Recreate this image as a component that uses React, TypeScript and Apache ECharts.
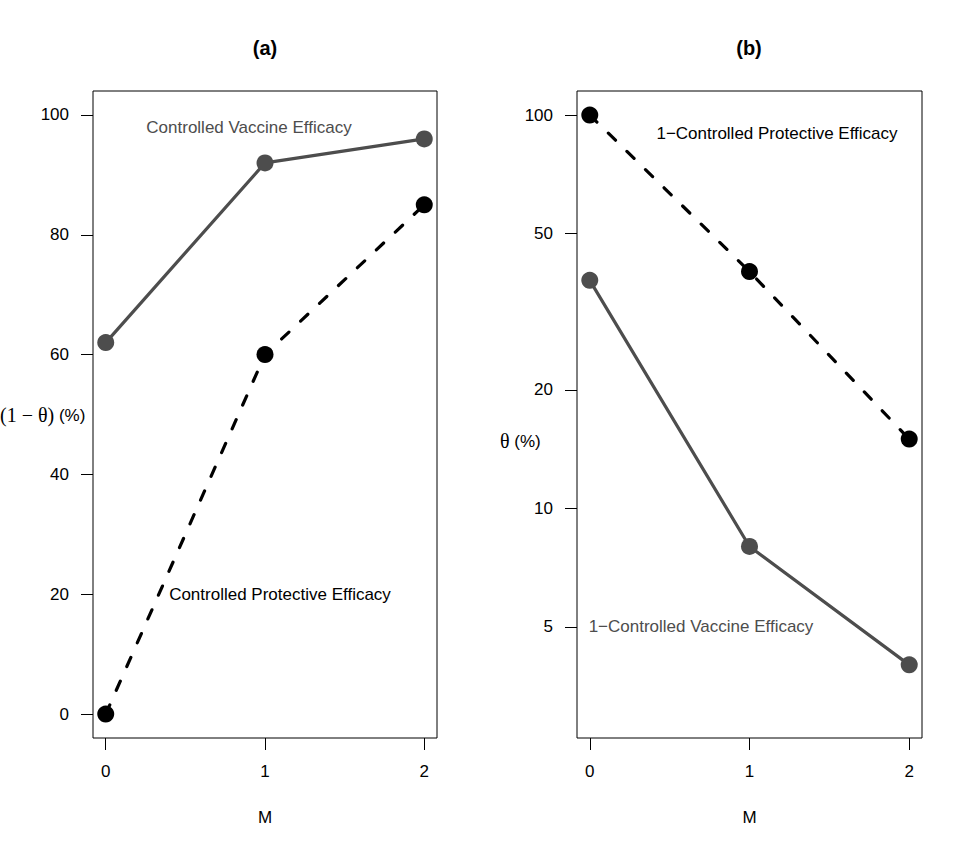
import React, { useEffect, useRef } from "react";
import * as echarts from "echarts";

const M = [0, 1, 2];
const xTicks = [0, 1, 2];
// panel (a): efficacies in %
const vaccineEffA = [62, 92, 96];
const protectiveEffA = [0, 60, 85];
const yTicksA = [0, 20, 40, 60, 80, 100];
// panel (b): theta in % (log scale)
const oneMinusVaccineB = [38, 8, 4];
const oneMinusProtectiveB = [100, 40, 15];
const yTicksB = [5, 10, 20, 50, 100];

const FONT = "'Liberation Sans', Arial, Helvetica, sans-serif";
const SERIF = "'Liberation Serif', 'DejaVu Serif', serif";
const GREY = "#4d4d4d";

export default function App() {
  const ref = useRef<HTMLDivElement>(null);
  useEffect(() => {
    document.body.style.margin = "0";
    const chart = echarts.init(ref.current!, null, { renderer: "svg" });
    const pair = (ys: number[]) => M.map((m, i) => [m, ys[i]]);
    const xAxisBase = (gridIndex: number) => ({
      type: "value" as const,
      gridIndex,
      min: -0.08,
      max: 2.08,
      name: "M",
      nameLocation: "middle" as const,
      nameGap: 71,
      nameTextStyle: { fontFamily: FONT, fontSize: 17, color: "#000" },
      axisLine: { show: false, onZero: false },
      splitLine: { show: false },
      axisTick: {
        show: true,
        inside: false,
        length: 12,
        customValues: xTicks,
        lineStyle: { color: "#000", width: 1 },
      },
      axisLabel: {
        customValues: xTicks,
        margin: 25,
        fontFamily: FONT,
        fontSize: 17,
        color: "#000",
      },
    });
    const yCommon = {
      axisLine: { show: false, onZero: false },
      splitLine: { show: false },
      axisLabel: { margin: 24, fontFamily: FONT, fontSize: 17, color: "#000" },
    };
    chart.setOption({
      animation: false,
      backgroundColor: "#fff",
      grid: [
        { left: 93, top: 91, width: 344, height: 647, show: true, borderColor: "#000", borderWidth: 1, backgroundColor: "transparent" },
        { left: 577, top: 91, width: 345, height: 647, show: true, borderColor: "#000", borderWidth: 1, backgroundColor: "transparent" },
      ],
      xAxis: [xAxisBase(0), xAxisBase(1)],
      yAxis: [
        {
          type: "value",
          gridIndex: 0,
          min: -4,
          max: 104,
          ...yCommon,
          axisTick: { show: true, inside: false, length: 12, customValues: yTicksA, lineStyle: { color: "#000" } },
          axisLabel: { ...yCommon.axisLabel, customValues: yTicksA },
        },
        {
          type: "log",
          logBase: 10,
          gridIndex: 1,
          min: 2.607,
          max: 115.1,
          ...yCommon,
          axisTick: { show: true, inside: false, length: 12, customValues: yTicksB, lineStyle: { color: "#000" } },
          axisLabel: { ...yCommon.axisLabel, customValues: yTicksB },
        },
      ],
      series: [
        {
          type: "line",
          xAxisIndex: 0,
          yAxisIndex: 0,
          data: pair(vaccineEffA),
          symbol: "circle",
          symbolSize: 17,
          itemStyle: { color: GREY },
          lineStyle: { color: GREY, width: 3.2 },
        },
        {
          type: "line",
          xAxisIndex: 0,
          yAxisIndex: 0,
          data: pair(protectiveEffA),
          symbol: "circle",
          symbolSize: 17,
          itemStyle: { color: "#000" },
          lineStyle: { color: "#000", width: 3.2, type: [10, 16], cap: "round" },
        },
        {
          type: "line",
          xAxisIndex: 1,
          yAxisIndex: 1,
          data: pair(oneMinusVaccineB),
          symbol: "circle",
          symbolSize: 17,
          itemStyle: { color: GREY },
          lineStyle: { color: GREY, width: 3.2 },
        },
        {
          type: "line",
          xAxisIndex: 1,
          yAxisIndex: 1,
          data: pair(oneMinusProtectiveB),
          symbol: "circle",
          symbolSize: 17,
          itemStyle: { color: "#000" },
          lineStyle: { color: "#000", width: 3.2, type: [10, 16], cap: "round" },
        },
      ],
      graphic: [
        { type: "text", x: 265, y: 48, style: { text: "(a)", fontFamily: FONT, fontSize: 20, fontWeight: "bold", fill: "#000", align: "center", verticalAlign: "middle" } },
        { type: "text", x: 749, y: 48, style: { text: "(b)", fontFamily: FONT, fontSize: 20, fontWeight: "bold", fill: "#000", align: "center", verticalAlign: "middle" } },
        {
          type: "text",
          x: 0,
          y: 415,
          style: {
            text: "{s|(1 − θ)} (%)",
            fontFamily: FONT,
            fontSize: 17,
            fill: "#000",
            align: "left",
            verticalAlign: "middle",
            rich: { s: { fontFamily: SERIF, fontSize: 20, fill: "#000" } },
          },
        },
        {
          type: "text",
          x: 500,
          y: 441,
          style: {
            text: "{s|θ} (%)",
            fontFamily: FONT,
            fontSize: 17,
            fill: "#000",
            align: "left",
            verticalAlign: "middle",
            rich: { s: { fontFamily: SERIF, fontSize: 20, fill: "#000" } },
          },
        },
        { type: "text", x: 249, y: 127, style: { text: "Controlled Vaccine Efficacy", fontFamily: FONT, fontSize: 17, fill: GREY, align: "center", verticalAlign: "middle" } },
        { type: "text", x: 280, y: 594, style: { text: "Controlled Protective Efficacy", fontFamily: FONT, fontSize: 17, fill: "#000", align: "center", verticalAlign: "middle" } },
        { type: "text", x: 777, y: 133, style: { text: "1−Controlled Protective Efficacy", fontFamily: FONT, fontSize: 17, fill: "#000", align: "center", verticalAlign: "middle" } },
        { type: "text", x: 701, y: 626, style: { text: "1−Controlled Vaccine Efficacy", fontFamily: FONT, fontSize: 17, fill: GREY, align: "center", verticalAlign: "middle" } },
      ],
    });
    return () => chart.dispose();
  }, []);
  return <div ref={ref} style={{ width: 969, height: 854 }} />;
}
